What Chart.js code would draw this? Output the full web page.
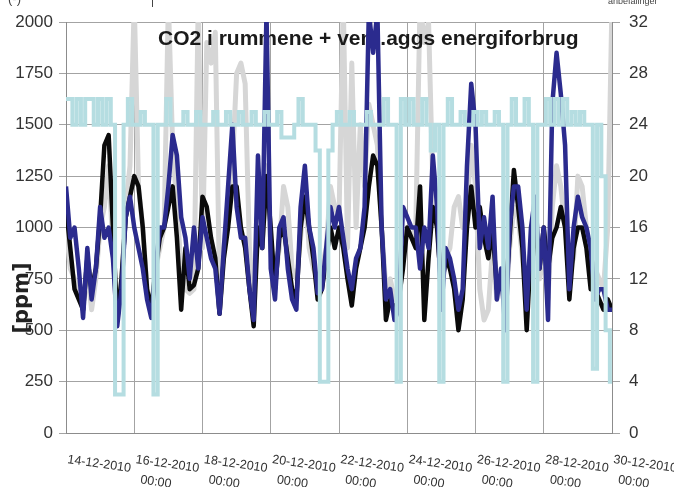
<!DOCTYPE html>
<html>
<head>
<meta charset="utf-8">
<script src="https://cdn.jsdelivr.net/npm/chart.js@4.4.0/dist/chart.umd.min.js"></script>
<style>
  html, body { margin: 0; padding: 0; background: #fff; }
  canvas { display: block; }
</style>
</head>
<body>
<canvas id="chart" width="674" height="487"></canvas>
<script>
/* global Chart */
const TITLE = 'CO2 i rummene + vent.aggs energiforbrug';
const Y_TITLE = '[ppm]';
const tickDates = ['14-12-2010','16-12-2010','18-12-2010','20-12-2010','22-12-2010',
                   '24-12-2010','26-12-2010','28-12-2010','30-12-2010'];
const tickTime = '00:00';
const STEP_HOURS = 3;   // one reading every 3 hours, 14-12 00:00 -> 30-12 00:00

// CO2 [ppm], left axis
const co2Blue = [
  1200, 950, 1000, 800, 560, 900, 650, 800,
  1100, 950, 1000, 850, 520, 700, 1050, 1150,
  1000, 900, 800, 650, 560, 800, 1000, 1000,
  1200, 1450, 1350, 1050, 950, 750, 1000, 800,
  1050, 950, 850, 800, 580, 900, 1200, 1500,
  1100, 950, 950, 700, 550, 1350, 900, 2050,
  800, 650, 1000, 1050, 800, 650, 600, 1100,
  1300, 1000, 900, 680, 700, 900, 1100, 1000,
  1100, 950, 800, 700, 850, 900, 1100, 2050,
  1850, 2050, 1000, 650, 700, 550, 600, 1100,
  1050, 1000, 1000, 800, 1000, 900, 1350, 1100,
  600, 900, 850, 750, 600, 700, 1300, 1700,
  1500, 900, 1050, 900, 1150, 650, 800, 500,
  1000, 1200, 1200, 1000, 600, 1000, 1150, 800,
  1000, 550, 1600, 1850, 1650, 1400, 700, 1000,
  1150, 1050, 1000, 900, 650, 700, 700, 600,
  600
];
const co2Black = [
  1100, 900, 700, 650, 600, 850, 700, 800,
  1050, 1400, 1450, 1000, 550, 750, 1050, 1150,
  1250, 1200, 1000, 700, 600, 800, 950, 1000,
  1100, 1200, 950, 600, 900, 700, 720, 800,
  1150, 1100, 950, 850, 580, 850, 1000, 1200,
  1200, 1000, 900, 700, 520, 1000, 900, 1250,
  1000, 700, 950, 1000, 850, 700, 650, 1000,
  1150, 1000, 850, 650, 700, 850, 1000, 900,
  1000, 900, 750, 620, 800, 900, 1000, 1200,
  1350, 1300, 1000, 550, 650, 600, 650, 800,
  1000, 950, 900, 1200, 550, 850, 1100, 1000,
  700, 850, 800, 700, 500, 650, 1000, 1200,
  1000, 1100, 950, 850, 1000, 700, 750, 650,
  950, 1280, 1100, 900, 500, 900, 1000, 800,
  1000, 800, 950, 1000, 1100, 1000, 650, 900,
  1000, 1000, 900, 700, 700, 650, 600, 650,
  600
];
const co2Gray = [
  1000, 800, 750, 700, 600, 800, 600, 750,
  1000, 1100, 1300, 900, 550, 700, 1100, 1300,
  2100, 1200, 1000, 700, 600, 800, 900, 1000,
  2100, 1400, 1100, 800, 700, 680, 700, 2100,
  900, 1900, 1800, 1950, 700, 900, 1100, 1300,
  1750, 1800, 1700, 900, 650, 1100, 900, 1300,
  900, 750, 900, 1200, 1100, 800, 750, 950,
  1200, 900, 800, 750, 800, 900, 1200, 1100,
  1050, 2100, 900, 1800, 1000, 1500, 1200, 1600,
  1500, 1400, 1000, 700, 750, 650, 700, 900,
  1000, 950, 1000, 2100, 1900, 2000, 1200, 1000,
  700, 850, 900, 1100, 1150, 1000, 1100, 1400,
  1200, 700, 550, 600, 900, 650, 750, 600,
  900, 1100, 1050, 850, 650, 900, 1000, 750,
  850, 650, 1100, 1300, 1200, 1000, 800, 850,
  1250, 1200, 1000, 850, 800, 750, 700, 1000,
  2100
];
// ventilation unit energy use, right axis
const ventEnergy = [
  26, 26, 24, 26, 24, 26, 26, 24,
  26, 24, 26, 24, 3, 3, 24, 26,
  24, 24, 25, 24, 24, 3, 24, 24,
  26, 24, 24, 24, 25, 24, 24, 25,
  24, 24, 24, 25, 24, 24, 25, 24,
  24, 25, 24, 24, 25, 24, 24, 25,
  24, 24, 25, 23, 23, 23, 24, 26,
  24, 24, 24, 22, 4, 4, 22, 24,
  25, 24, 24, 25, 24, 24, 24, 25,
  24, 24, 24, 26, 24, 24, 4, 26,
  24, 26, 24, 24, 26, 24, 22, 24,
  4, 24, 26, 24, 24, 25, 24, 24,
  25, 24, 25, 24, 24, 25, 24, 4,
  24, 26, 24, 24, 26, 24, 4, 24,
  24, 26, 24, 26, 24, 26, 24, 25,
  24, 25, 24, 24, 5, 24, 20, 8,
  4
];

const GRID = '#a3a3a3';
const AXIS = '#8c8c8c';
const TXT = '#333';

function pts(arr){ return arr.map((v, i) => ({ x: i * STEP_HOURS, y: v })); }
const lastHour = (co2Blue.length - 1) * STEP_HOURS;

const GRAY_INDEX = 3;

const decor = {
  id: 'decor',
  // title sits above the grey series but under the dark ones
  afterDatasetDraw(chart, args){
    if (args.index !== GRAY_INDEX) return;
    const ctx = chart.ctx;
    ctx.save();
    ctx.font = 'bold 21px "Liberation Sans", Arial, sans-serif';
    ctx.fillStyle = '#1a1a1a';
    ctx.textAlign = 'left';
    ctx.textBaseline = 'alphabetic';
    ctx.fillText(TITLE, 158, 45);
    ctx.restore();
  },
  afterDraw(chart){
    const ctx = chart.ctx;
    const xs = chart.scales.x;
    ctx.save();
    // date labels, tilted down to the right
    ctx.font = '12.5px "Liberation Sans", Arial, sans-serif';
    ctx.fillStyle = TXT;
    ctx.textAlign = 'left';
    ctx.textBaseline = 'alphabetic';
    tickDates.forEach((d, k) => {
      const px = xs.getPixelForValue(k * 48);
      ctx.save();
      ctx.translate(px + 1, 463);
      ctx.rotate(8 * Math.PI / 180);
      ctx.fillText(d, 0, 0);
      ctx.fillText(tickTime, 75, 10);
      ctx.restore();
    });
    // y title
    ctx.save();
    ctx.translate(23, 298);
    ctx.rotate(-Math.PI / 2);
    ctx.font = 'bold 21px "DejaVu Sans", sans-serif';
    ctx.fillStyle = '#222';
    ctx.textAlign = 'center';
    ctx.textBaseline = 'middle';
    ctx.fillText(Y_TITLE, 0, 0);
    ctx.restore();
    // cropped bits at the top edge of the picture
    ctx.font = '13px "Liberation Sans", Arial, sans-serif';
    ctx.fillStyle = '#444';
    ctx.fillText('(-)', 8, 3);
    ctx.font = '9px "Liberation Sans", Arial, sans-serif';
    ctx.fillText('anbefalinger', 608, 4);
    ctx.strokeStyle = '#444';
    ctx.lineWidth = 1;
    ctx.beginPath(); ctx.moveTo(152.5, 0); ctx.lineTo(152.5, 7); ctx.stroke();
    ctx.restore();
  }
};

const lineDs = (data, color, width, order, extra) => Object.assign({
  data: pts(data), borderColor: color, backgroundColor: color, borderWidth: width,
  pointRadius: 0, tension: 0, fill: false, order, clip: 0,
  borderJoinStyle: 'round', yAxisID: 'y'
}, extra || {});

const plain = v => String(v);

new Chart(document.getElementById('chart'), {
  type: 'line',
  data: {
    datasets: [
      lineDs(ventEnergy, '#b5dde1', 4, 0, { yAxisID: 'y1', stepped: 'middle', borderJoinStyle: 'miter' }),
      lineDs(co2Blue, '#2b2b8e', 4.5, 1),
      lineDs(co2Black, '#0a0a0a', 4.5, 2),
      lineDs(co2Gray, '#d6d6d6', 5, 3)
    ]
  },
  options: {
    responsive: false,
    animation: false,
    layout: { padding: { top: 22, left: 0, right: 0, bottom: 0 } },
    plugins: { legend: { display: false }, tooltip: { enabled: false } },
    scales: {
      x: {
        type: 'linear', min: 0, max: lastHour,
        ticks: { stepSize: 48, display: false },
        grid: { color: GRID, drawTicks: false },
        border: { color: AXIS },
        afterFit: s => { s.height = 54; }
      },
      y: {
        position: 'left', min: 0, max: 2000,
        ticks: { stepSize: 250, color: TXT, padding: 6, callback: plain,
                 font: { family: '"Liberation Sans", Arial, sans-serif', size: 17 } },
        grid: { color: GRID, tickLength: 7 },
        border: { color: AXIS },
        afterFit: s => { s.width = 66; }
      },
      y1: {
        position: 'right', min: 0, max: 32,
        ticks: { stepSize: 4, color: TXT, padding: 9, callback: plain,
                 font: { family: '"Liberation Sans", Arial, sans-serif', size: 17 } },
        grid: { drawOnChartArea: false, color: GRID, tickLength: 8 },
        border: { color: AXIS },
        afterFit: s => { s.width = 62; }
      }
    }
  },
  plugins: [decor]
});
</script>
</body>
</html>
